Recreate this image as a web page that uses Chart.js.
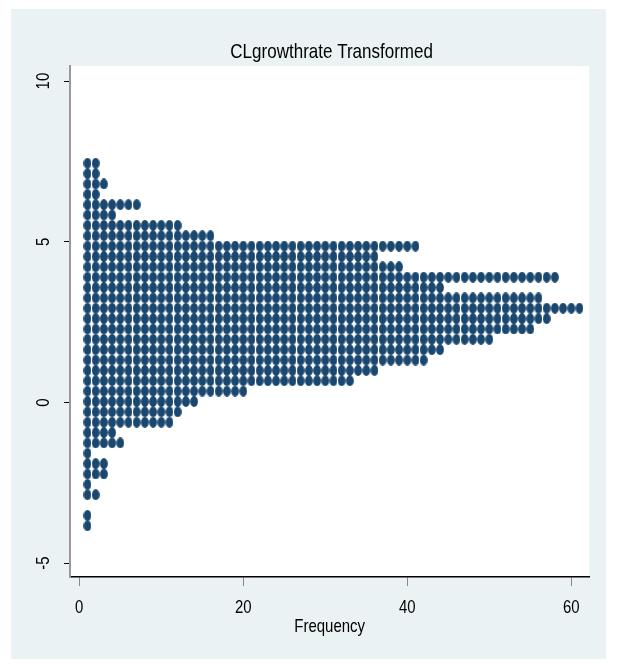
<!DOCTYPE html>
<html>
<head>
<meta charset="utf-8">
<script src="https://cdn.jsdelivr.net/npm/chart.js@4"></script>
<style>
  html, body { margin: 0; padding: 0; background: #ffffff; }
  canvas { display: block; }
</style>
</head>
<body>
<canvas id="c" width="618" height="664"></canvas>
<script>
// Bin levels (y) of the transformed variable, top to bottom
const binLevels = [7.445, 7.123, 6.800, 6.478, 6.156, 5.834, 5.511, 5.189, 4.867, 4.544,
                   4.222, 3.900, 3.577, 3.255, 2.933, 2.611, 2.288, 1.966, 1.644, 1.321,
                   0.999, 0.677, 0.354, 0.032, -0.290, -0.613, -0.935, -1.257, -1.579, -1.902,
                   -2.224, -2.546, -2.869, -3.191, -3.513, -3.836];
// Frequency (number of dots) in each bin
const binCounts = [2, 2, 3, 2, 7, 4, 12, 16, 41, 36,
                   39, 58, 44, 56, 61, 57, 55, 50, 44, 42,
                   36, 33, 20, 14, 12, 11, 4, 5, 1, 3,
                   3, 1, 2, 0, 1, 1];
const xTickValues = [0, 20, 40, 60];
const yTickValues = [-5, 0, 5, 10];
const chartTitle = 'CLgrowthrate Transformed';
const xTitle = 'Frequency';

const dotColor = '#1A476F';
const FONT = "'Liberation Sans', Arial, Helvetica, sans-serif";

// dot points built from the arrays
const points = [];
binLevels.forEach((y, i) => {
  for (let k = 1; k <= binCounts[i]; k++) points.push({ x: k, y: y });
});

// elliptical marker
const dot = document.createElement('canvas');
dot.width = 8; dot.height = 11;
(function () {
  const g = dot.getContext('2d');
  g.fillStyle = dotColor;
  g.beginPath();
  g.ellipse(4, 5.5, 3.9, 5.4, 0, 0, Math.PI * 2);
  g.fill();
})();

function condensedText(ctx, text, x, y, size, sx, rot, align) {
  ctx.save();
  ctx.translate(x, y);
  if (rot) ctx.rotate(rot);
  ctx.scale(sx, 1);
  ctx.font = size + 'px ' + FONT;
  ctx.fillStyle = '#000';
  ctx.textAlign = align || 'center';
  ctx.textBaseline = 'alphabetic';
  ctx.fillText(text, 0, 0);
  ctx.restore();
}

const bgPlugin = {
  id: 'bg',
  beforeDraw(chart) {
    const ctx = chart.ctx, a = chart.chartArea;
    ctx.save();
    ctx.fillStyle = '#ffffff';
    ctx.fillRect(0, 0, chart.width, chart.height);
    ctx.fillStyle = '#EAF2F3';
    ctx.fillRect(11, 9, 595, 650);
    ctx.fillStyle = '#ffffff';
    ctx.fillRect(a.left, a.top, a.right - a.left, a.bottom - a.top);
    ctx.restore();
  }
};

// narrow (Stata-like) text for title, tick labels and axis title, placed with the chart's scales
const textPlugin = {
  id: 'narrowText',
  afterDraw(chart) {
    const ctx = chart.ctx, a = chart.chartArea;
    const xs = chart.scales.x, ys = chart.scales.y;
    const cx = (a.left + a.right) / 2;
    condensedText(ctx, chartTitle, cx + 2, 58, 21, 0.81, 0, 'center');
    xs.ticks.forEach(t => {
      condensedText(ctx, String(t.value), xs.getPixelForValue(t.value), 612.5, 18, 0.83, 0, 'center');
    });
    condensedText(ctx, xTitle, cx, 632, 18.5, 0.81, 0, 'center');
    ys.ticks.forEach(t => {
      condensedText(ctx, String(t.value), 49, ys.getPixelForValue(t.value), 18, 0.83, -Math.PI / 2, 'center');
    });
  }
};

new Chart(document.getElementById('c'), {
  type: 'scatter',
  data: {
    datasets: [{
      data: points,
      pointStyle: dot,
      pointRadius: 4,
      pointHoverRadius: 4,
      backgroundColor: dotColor,
      borderColor: dotColor
    }]
  },
  options: {
    responsive: false,
    animation: false,
    devicePixelRatio: 1,
    layout: { padding: { left: 0, right: 28.7, top: 66, bottom: 0 } },
    plugins: {
      legend: { display: false },
      tooltip: { enabled: false },
      title: { display: false }
    },
    scales: {
      x: {
        type: 'linear',
        min: -1.13,
        max: 62.2,
        afterBuildTicks: s => { s.ticks = xTickValues.map(v => ({ value: v })); },
        afterFit: s => { s.height = 87; },
        grid: { display: true, drawOnChartArea: false, drawTicks: true, tickLength: 9, tickColor: '#888', tickWidth: 1 },
        border: { display: true, color: '#000', width: 1.5 },
        ticks: { color: 'rgba(0,0,0,0)', font: { family: FONT, size: 18 }, padding: 8, maxRotation: 0, minRotation: 0 },
        title: { display: false }
      },
      y: {
        type: 'linear',
        min: -5.43,
        max: 10.47,
        afterBuildTicks: s => { s.ticks = yTickValues.map(v => ({ value: v })); },
        afterFit: s => { s.width = 70; },
        grid: { display: true, drawOnChartArea: false, drawTicks: true, tickLength: 6, tickColor: '#000', tickWidth: 1 },
        border: { display: true, color: '#999', width: 2 },
        ticks: { color: 'rgba(0,0,0,0)', font: { family: FONT, size: 18 }, padding: 16 }
      }
    }
  },
  plugins: [bgPlugin, textPlugin]
});
</script>
</body>
</html>
